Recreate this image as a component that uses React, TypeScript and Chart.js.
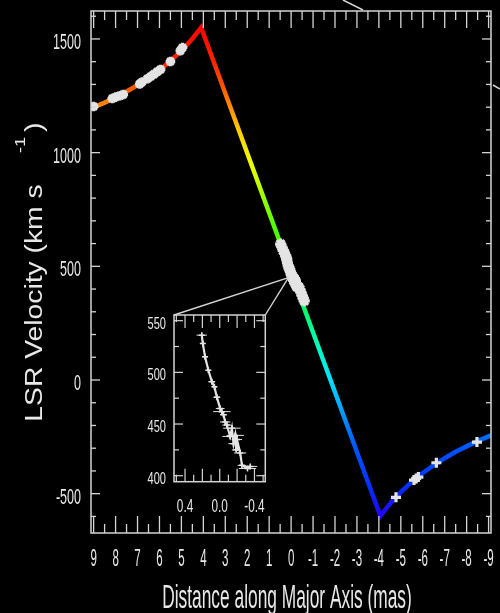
import React, { useEffect, useRef } from "react";
import { Chart, registerables } from "chart.js";

Chart.register(...registerables);

// ---------- main panel axes ----------
const xTickLabels = [9, 8, 7, 6, 5, 4, 3, 2, 1, 0, -1, -2, -3, -4, -5, -6, -7, -8, -9];
const yTickLabels = [1500, 1000, 500, 0, -500];
const xRange = [-9.11, 9.12];
const yRange = [-673, 1623];

// ---------- rotation-curve model ----------
const modelX = [9.12, 8.5, 8, 7.5, 7, 6.5, 6, 5.5, 5, 4.5, 4.1, -4.07, -4.5, -5, -5.5, -6, -6.5, -7, -7.5, -8, -8.5, -9, -9.11];
const modelV = [1194, 1220, 1243, 1269, 1297, 1328, 1363, 1403, 1448, 1501, 1550, -598, -545, -493, -448, -409, -375, -344, -316, -292, -269, -248, -244];

// ---------- high-velocity masers ----------
const redX = [9.0, 8.15, 8.0, 7.8, 7.65, 6.9, 6.8, 6.55, 6.4, 6.25, 6.1, 5.95, 5.5, 5.05, 4.95];
const redV = [1203, 1238, 1244, 1250, 1256, 1302, 1310, 1325, 1335, 1345, 1356, 1366, 1401, 1448, 1462];
const blueX = [-4.78, -5.6, -5.7, -5.8, -6.62, -8.47];
const blueV = [-516, -440, -433, -427, -364, -273];

// ---------- systemic masers ----------
const sysX = [0.48, 0.42, 0.36, 0.3, 0.25, 0.207, 0.195, 0.169, 0.131, 0.091, 0.061, 0.033, -0.005, -0.024, -0.043, -0.063, -0.082, -0.12, -0.14, -0.159, -0.178, -0.19, -0.198, -0.236, -0.256, -0.32, -0.352, -0.4, -0.45, -0.5, -0.55, -0.6];
const sysV = [598, 585, 570, 558, 546, 536, 528, 515, 502, 491, 486, 476, 465, 462, 459, 452, 449, 438, 446, 431, 439, 425, 435, 422, 410, 407, 409, 398, 385, 372, 360, 348];
const sysXErr = [0.03, 0.03, 0.03, 0.03, 0.03, 0.06, 0.03, 0.03, 0.03, 0.04, 0.03, 0.04, 0.05, 0.1, 0.04, 0.06, 0.05, 0.09, 0.1, 0.06, 0.1, 0.05, 0.06, 0.07, 0.05, 0.1, 0.08, 0.03, 0.03, 0.03, 0.03, 0.03];

// ---------- inset axes ----------
const insetXLabels = [0.4, 0.0, -0.4];
const insetYLabels = [550, 500, 450, 400];
const insetXRange = [-0.525, 0.527];
const insetYRange = [394.2, 555.5];
const insetVMin = 400;
const insetVMax = 545;
const zoomX = 0.12;
const zoomV = 450;

// ---------- style ----------
const AXIS = "#d4d4d4";
const TEXT = "#e8e8e8";
const MARK = "#e4e4e4";
const FONT = "'Liberation Sans', Arial, Helvetica, sans-serif";
const colorStops: [number, string][] = [
  [1560, "#ff0000"],
  [1400, "#ff2400"],
  [1300, "#ff5000"],
  [1200, "#ff8c00"],
  [1100, "#ffcc00"],
  [950, "#f0ff00"],
  [850, "#b4ff00"],
  [700, "#60ff00"],
  [600, "#34ff00"],
  [450, "#00ff40"],
  [280, "#00ff78"],
  [150, "#00ffc0"],
  [0, "#00e0ff"],
  [-100, "#00b0ff"],
  [-200, "#0080ff"],
  [-300, "#0054ff"],
  [-450, "#0036ff"],
  [-610, "#2400ff"],
];

function drawText(ctx: CanvasRenderingContext2D, text: string, x: number, y: number, size: number, sx: number, align: CanvasTextAlign, rot = 0) {
  ctx.save();
  ctx.translate(x, y);
  if (rot) ctx.rotate(rot);
  ctx.scale(sx, 1);
  ctx.font = `${size}px ${FONT}`;
  ctx.textAlign = align;
  ctx.textBaseline = "alphabetic";
  ctx.fillStyle = TEXT;
  ctx.fillText(text, 0, 0);
  ctx.restore();
}

function seg(ctx: CanvasRenderingContext2D, x1: number, y1: number, x2: number, y2: number) {
  ctx.beginPath();
  ctx.moveTo(x1, y1);
  ctx.lineTo(x2, y2);
  ctx.stroke();
}

const mainAxesPlugin = {
  id: "mainAxes",
  afterDraw(chart: any) {
    const { ctx, chartArea: a, scales } = chart;
    const x = scales.x;
    const y = scales.y;
    ctx.save();
    ctx.strokeStyle = AXIS;
    ctx.lineWidth = 1.5;
    ctx.strokeRect(a.left, a.top, a.right - a.left, a.bottom - a.top);
    ctx.lineWidth = 1.3;
    for (let i = -18; i <= 18; i++) {
      const px = x.getPixelForValue(i / 2);
      const len = i % 2 === 0 ? 17 : 9;
      seg(ctx, px, a.top, px, a.top + len);
      seg(ctx, px, a.bottom, px, a.bottom - len);
    }
    for (let v = -600; v <= 1600; v += 100) {
      const py = y.getPixelForValue(v);
      const len = v % 500 === 0 ? 9 : 5;
      seg(ctx, a.left, py, a.left + len, py);
      seg(ctx, a.right, py, a.right - len, py);
    }
    // decorative fragments of the original figure
    ctx.lineWidth = 1.5;
    seg(ctx, 343, 0, 363, 10);
    seg(ctx, 493, 85, 500, 89);

    xTickLabels.forEach((v) => drawText(ctx, String(v), x.getPixelForValue(v), a.bottom + 33, 23, 0.5, "center"));
    yTickLabels.forEach((v) => drawText(ctx, String(v), a.left - 10, y.getPixelForValue(v) + 10, 22, 0.57, "right"));

    drawText(ctx, "Distance along Major Axis (mas)", a.left + 196, 608, 34, 0.51, "center");
    drawText(ctx, "LSR Velocity (km s", 41.7, 421.7, 23, 1.23, "left", -Math.PI / 2);
    drawText(ctx, "-1", 25, 153, 14, 1.3, "left", -Math.PI / 2);
    drawText(ctx, ")", 41.7, 132, 23, 1.23, "left", -Math.PI / 2);
    ctx.restore();
  },
};

function makeInsetPlugin(main: any) {
  return {
    id: "insetAxes",
    beforeDraw(chart: any) {
      const { ctx, chartArea: a } = chart;
      ctx.save();
      ctx.fillStyle = "#000";
      ctx.fillRect(a.left, a.top, a.right - a.left, a.bottom - a.top);
      ctx.restore();
    },
    afterDatasetsDraw(chart: any) {
      const { ctx, scales } = chart;
      const x = scales.x;
      const y = scales.y;
      ctx.save();
      ctx.strokeStyle = MARK;
      ctx.lineWidth = 1;
      insetPoints().forEach((p) => {
        const py = y.getPixelForValue(p.y);
        seg(ctx, x.getPixelForValue(p.x - p.e), py, x.getPixelForValue(p.x + p.e), py);
        const px = x.getPixelForValue(p.x);
        seg(ctx, px, py - 2.5, px, py + 2.5);
      });
      ctx.restore();
    },
    afterDraw(chart: any) {
      const { ctx, chartArea: a, scales } = chart;
      const x = scales.x;
      const y = scales.y;
      ctx.save();
      ctx.strokeStyle = AXIS;
      ctx.lineWidth = 1.5;
      ctx.strokeRect(a.left, a.top, a.right - a.left, a.bottom - a.top);
      ctx.lineWidth = 1.2;
      for (let i = -5; i <= 5; i++) {
        const px = x.getPixelForValue(i / 10);
        const len = i % 2 === 0 ? 13 : 7;
        seg(ctx, px, a.top, px, a.top + len);
        seg(ctx, px, a.bottom, px, a.bottom - len);
      }
      for (let v = 400; v <= 550; v += 25) {
        const py = y.getPixelForValue(v);
        const len = v % 50 === 0 ? 9 : 5;
        seg(ctx, a.left, py, a.left + len, py);
        seg(ctx, a.right, py, a.right - len, py);
      }
      insetXLabels.forEach((v) => drawText(ctx, v.toFixed(1), x.getPixelForValue(v), a.bottom + 30, 19, 0.62, "center"));
      insetYLabels.forEach((v) => drawText(ctx, String(v), a.left - 8, y.getPixelForValue(v) + 8, 17, 0.65, "right"));
      // zoom connector lines
      const mx = main.scales.x.getPixelForValue(zoomX);
      const my = main.scales.y.getPixelForValue(zoomV);
      ctx.lineWidth = 1.4;
      seg(ctx, a.left, a.top, mx, my);
      seg(ctx, a.right, a.top, mx, my);
      ctx.restore();
    },
  };
}

function pairs(xs: number[], ys: number[]) {
  return xs.map((x, i) => ({ x, y: ys[i] }));
}

function insetPoints() {
  const out: { x: number; y: number; e: number }[] = [];
  sysX.forEach((x, i) => {
    if (sysV[i] >= insetVMin && sysV[i] <= insetVMax) out.push({ x, y: sysV[i], e: sysXErr[i] });
  });
  return out;
}

function lineGradient(context: any) {
  const chart = context.chart;
  const { ctx, chartArea, scales } = chart;
  if (!chartArea || !scales.y) return "#ff0000";
  const yTop = scales.y.getPixelForValue(colorStops[0][0]);
  const yBot = scales.y.getPixelForValue(colorStops[colorStops.length - 1][0]);
  const g = ctx.createLinearGradient(0, yTop, 0, yBot);
  colorStops.forEach(([v, c]) => {
    const t = (scales.y.getPixelForValue(v) - yTop) / (yBot - yTop);
    g.addColorStop(Math.min(1, Math.max(0, t)), c);
  });
  return g;
}

export default function App() {
  const mainRef = useRef<HTMLCanvasElement>(null);
  const insetRef = useRef<HTMLCanvasElement>(null);

  useEffect(() => {
    const markerDs = (data: any[], r: number, w: number, style: string) => ({
      data,
      showLine: false,
      pointStyle: style,
      pointRadius: r,
      pointBorderWidth: w,
      pointBorderColor: MARK,
      pointBackgroundColor: MARK,
      order: 0,
    });
    const main = new Chart(mainRef.current!, {
      type: "scatter",
      data: {
        datasets: [
          markerDs(pairs(redX, redV), 4.8, 3, "star"),
          markerDs(pairs(blueX, blueV), 5, 3.2, "cross"),
          markerDs(pairs(sysX, sysV), 5.5, 3.2, "star"),
          {
            data: pairs(modelX, modelV),
            showLine: true,
            borderColor: lineGradient,
            borderWidth: 4.5,
            borderJoinStyle: "miter",
            pointRadius: 0,
            tension: 0,
            order: 10,
          } as any,
        ],
      },
      options: {
        responsive: false,
        devicePixelRatio: 1,
        animation: false,
        events: [],
        layout: { padding: { left: 91, right: 9, top: 11, bottom: 80 } },
        plugins: { legend: { display: false }, tooltip: { enabled: false } },
        scales: {
          x: { type: "linear", display: false, reverse: true, min: xRange[0], max: xRange[1] },
          y: { type: "linear", display: false, min: yRange[0], max: yRange[1] },
        },
      },
      plugins: [mainAxesPlugin],
    } as any);

    const ip = insetPoints();
    const inset = new Chart(insetRef.current!, {
      type: "scatter",
      data: {
        datasets: [
          {
            data: ip.map((p) => ({ x: p.x, y: p.y })),
            showLine: true,
            borderColor: MARK,
            borderWidth: 2.2,
            pointStyle: "cross",
            pointRadius: 3,
            pointBorderWidth: 1.5,
            pointBorderColor: MARK,
            tension: 0,
          },
        ],
      },
      options: {
        responsive: false,
        devicePixelRatio: 1,
        animation: false,
        events: [],
        layout: { padding: { left: 174, right: 234.7, top: 315, bottom: 131.3 } },
        plugins: { legend: { display: false }, tooltip: { enabled: false } },
        scales: {
          x: { type: "linear", display: false, reverse: true, min: insetXRange[0], max: insetXRange[1] },
          y: { type: "linear", display: false, min: insetYRange[0], max: insetYRange[1] },
        },
      },
      plugins: [makeInsetPlugin(main)],
    } as any);

    return () => {
      inset.destroy();
      main.destroy();
    };
  }, []);

  const cs: React.CSSProperties = { position: "absolute", left: 0, top: 0, width: 500, height: 613 };
  return (
    <div style={{ ...cs, background: "#000", overflow: "hidden" }}>
      <canvas ref={mainRef} width={500} height={613} style={cs} />
      <canvas ref={insetRef} width={500} height={613} style={cs} />
    </div>
  );
}
